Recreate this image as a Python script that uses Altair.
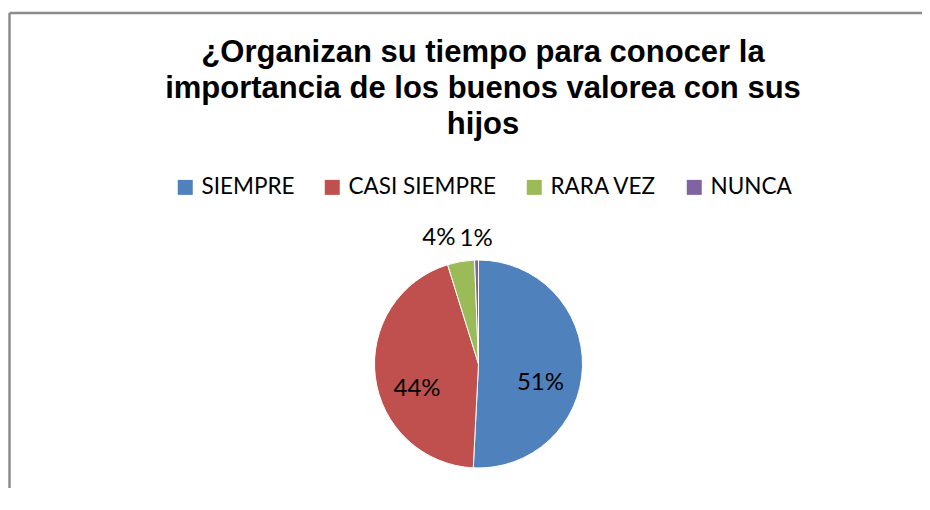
import altair as alt
import pandas as pd

categorias = ["SIEMPRE", "CASI SIEMPRE", "RARA VEZ", "NUNCA"]
valores = [50.8, 44.4, 4.2, 0.6]
etiquetas = ["51%", "44%", "4%", "1%"]
colores = ["#4F81BD", "#C0504D", "#9BBB59", "#8064A2"]
titulo = ["¿Organizan su tiempo para conocer la",
          "importancia de los buenos valorea con sus",
          "hijos"]

df = pd.DataFrame({
    "categoria": categorias,
    "valor": valores,
    "etiqueta": etiquetas,
    "orden": list(range(len(categorias))),
})

W, H = 861, 248
PAD = {"left": 40, "top": 232, "right": 13, "bottom": 0}
LABEL_FONT = "Lato"

base = alt.Chart(df).encode(
    theta=alt.Theta("valor:Q", stack=True),
    order=alt.Order("orden:Q"),
)

pie = base.mark_arc(outerRadius=104, stroke="white", strokeWidth=1).encode(
    color=alt.Color(
        "categoria:N",
        sort=categorias,
        scale=alt.Scale(domain=categorias, range=colores),
        legend=alt.Legend(
            title=None,
            orient="none",
            legendX=126,
            legendY=-64,
            direction="horizontal",
            columns=4,
            symbolType="square",
            symbolSize=225,
            symbolStrokeWidth=0,
            labelFont=LABEL_FONT,
            labelFontSize=22.5,
            labelColor="black",
            labelOffset=5,
            columnPadding=26,
            labelLimit=400,
        ),
    )
)

inside = base.transform_calculate(
    t="datum.valor >= 10 ? datum.etiqueta : ''"
).mark_text(radius=62, dy=17, font=LABEL_FONT, fontSize=24, color="black").encode(
    text="t:N"
)

green_lbl = base.transform_calculate(
    t="datum.categoria == 'RARA VEZ' ? datum.etiqueta : ''"
).mark_text(radius=128, dx=-18, font=LABEL_FONT, fontSize=24, color="black").encode(
    text="t:N"
)

purple_lbl = base.transform_calculate(
    t="datum.categoria == 'NUNCA' ? datum.etiqueta : ''"
).mark_text(radius=125, font=LABEL_FONT, fontSize=24, color="black").encode(
    text="t:N"
)

frame_df = pd.DataFrame({"k": [0]})
frame_left = alt.Chart(frame_df).mark_rule(color="#8c8c8c", strokeWidth=2.5).encode(
    x=alt.value(-38.5), y=alt.value(-227), y2=alt.value(H)
)
frame_top = alt.Chart(frame_df).mark_rule(color="#8c8c8c", strokeWidth=2.5).encode(
    x=alt.value(-38.5), x2=alt.value(W + 20), y=alt.value(-227)
)

chart = alt.layer(frame_left, frame_top, pie, inside, green_lbl, purple_lbl).properties(
    width=W,
    height=H,
    padding=PAD,
    autosize=alt.AutoSizeParams(type="none"),
    title=alt.TitleParams(
        text=titulo,
        font="Liberation Sans",
        fontSize=31,
        fontWeight="bold",
        color="black",
        anchor="middle",
        baseline="top",
        lineHeight=36,
        offset=-129,
        dx=4.5,
    ),
).configure_view(stroke=None).resolve_scale(theta="independent")

chart.save("out.html", embed_options={"renderer": "svg", "actions": False})
